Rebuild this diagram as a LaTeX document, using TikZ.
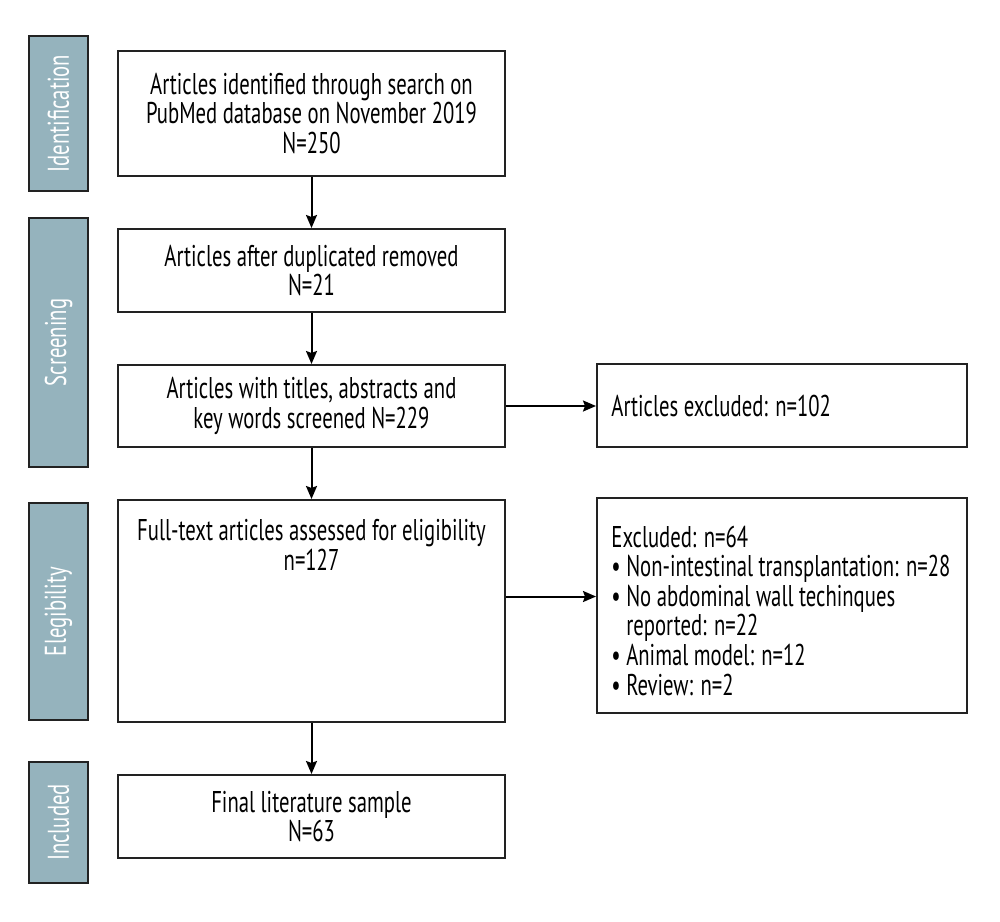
\documentclass[tikz,border=0pt]{standalone}
\usepackage{fontspec}
\setmainfont{PT Sans}[FakeStretch=0.69]
\usetikzlibrary{arrows.meta}
\definecolor{sidefill}{HTML}{95B3BD}
\definecolor{lineblk}{HTML}{222222}
\tikzset{
  box/.style={draw=lineblk, line width=1pt, fill=white, inner sep=0pt, align=center, font=\fontsize{15}{14.8}\selectfont},
  sidebox/.style={draw=lineblk, line width=1pt, fill=sidefill, rotate=90, inner sep=0pt, text=white, font=\fontsize{15}{14.8}\selectfont},
  txt/.style={inner sep=0pt, font=\fontsize{15}{14.8}\selectfont},
  arr/.style={draw=black, line width=1pt, -{Stealth[length=6.5pt,width=5.5pt,inset=1pt]}}
}
\begin{document}
\begin{tikzpicture}[x=0.5pt,y=-0.5pt]
\useasboundingbox (0,0) rectangle (1000,921);
% side labels
\node[sidebox, minimum width=77.5pt, minimum height=29.5pt] (sid) at (58.5,113.5) {Identification};
\node[sidebox, minimum width=124.5pt, minimum height=29.5pt] (sscr) at (58.5,342.5) {Screening};
\node[sidebox, minimum width=108.5pt, minimum height=29.5pt] (seli) at (58.5,611.5) {Elegibility};
\node[sidebox, minimum width=60.5pt, minimum height=29.5pt] (sinc) at (58.5,822.5) {Included};
% main boxes
\node[box, minimum width=193.5pt, minimum height=62.5pt] (b1) at (311.5,113.5) {Articles identified through search on\\PubMed database on November 2019\\N=250};
\node[box, minimum width=193.5pt, minimum height=41.5pt] (b2) at (311.5,270.5) {Articles after duplicated removed\\N=21};
\node[box, minimum width=193.5pt, minimum height=41pt] (b3) at (311.5,406) {Articles with titles, abstracts and\\key words screened N=229};
\node[box, minimum width=193.5pt, minimum height=111pt] (b4) at (311.5,611) {};
\node[txt, align=center, anchor=north] (b4t) at ([yshift=-10pt]b4.north) {Full-text articles assessed for eligibility\\n=127};
\node[box, minimum width=193.5pt, minimum height=41.5pt] (b5) at (311.5,816.5) {Final literature sample\\N=63};
% exclusion boxes
\node[box, minimum width=185pt, minimum height=41.5pt] (e1) at (782,405.5) {};
\node[txt, anchor=west] (e1t) at ([xshift=7.5pt]e1.west) {Articles excluded: n=102};
\node[box, minimum width=185pt, minimum height=107.5pt] (e2) at (782,605.5) {};
\node[txt, anchor=west, align=left] (e2t) at ([xshift=7.5pt,yshift=-2.5pt]e2.west) {Excluded: n=64\\
\textbullet\ Non-intestinal transplantation: n=28\\
\textbullet\ No abdominal wall techinques\\
\phantom{\textbullet\ }reported: n=22\\
\textbullet\ Animal model: n=12\\
\textbullet\ Review: n=2};
% connectors
\draw[arr] (b1) -- (b2);
\draw[arr] (b2) -- (b3);
\draw[arr] (b3) -- (b4);
\draw[arr] (b4) -- (b5);
\draw[arr] (b3.east) -- (e1.west |- b3.east);
\coordinate (c4) at ([yshift=4.5pt]e2.west);
\draw[arr] (b4.east |- c4) -- (c4);
\end{tikzpicture}
\end{document}
